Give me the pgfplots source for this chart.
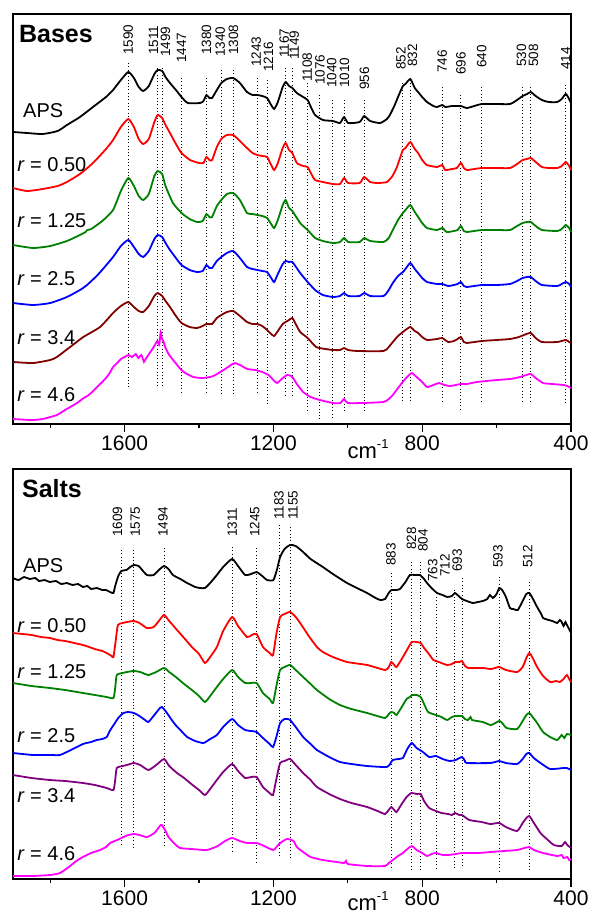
\documentclass[border=0pt]{standalone}
\usepackage{pgfplots}
\pgfplotsset{compat=1.18}
\usepackage{fontspec}
\setmainfont{Liberation Sans}
\definecolor{cgreen}{RGB}{0,128,0}
\definecolor{cbrown}{RGB}{128,0,0}
\definecolor{cpurple}{RGB}{128,0,128}
\definecolor{cmag}{RGB}{255,0,255}
\definecolor{cred}{RGB}{255,0,0}
\definecolor{cblue}{RGB}{0,0,255}
\newcommand{\lbl}{\fontsize{13.5}{14}\selectfont}
\newcommand{\ser}{\fontsize{20}{20}\selectfont}
\pgfplotsset{
  panel/.style={
    scale only axis, width=558pt, height=410pt,
    x dir=reverse, xmin=400, xmax=1900, ymin=0, ymax=410,
    xtick={1600,1200,800,400}, minor xtick={1800,1400,1000,600},
    ytick=\empty, tick align=outside, xtick pos=bottom,
    major tick length=8pt, minor tick length=4pt,
    every tick/.style={black, line width=1.2pt},
    axis line style={line width=1.5pt},
    /pgf/number format/assume math mode=true,
    /pgf/number format/1000 sep={},
    xticklabel style={font=\fontsize{21}{21}\selectfont},
    clip=false,
  },
  spec/.style={line width=1.8pt, smooth, tension=0.35, mark=none},
  pk/.style={black, line width=0.9pt, dash pattern=on 0.9pt off 2.4pt, forget plot},
}
\begin{document}
\begin{tikzpicture}
\useasboundingbox (0,0) rectangle (590pt,-913pt);
% ================= TOP: Bases =================
\begin{axis}[panel, at={(13pt,-424pt)}, anchor=south west]
% dotted lines
\addplot[pk] coordinates {(1590,361) (1590,36)};
\addplot[pk] coordinates {(1511,356) (1511,36)};
\addplot[pk] coordinates {(1499,356) (1499,36)};
\addplot[pk] coordinates {(1447,346) (1447,31)};
\addplot[pk] coordinates {(1380,346) (1380,31)};
\addplot[pk] coordinates {(1340,354) (1340,28)};
\addplot[pk] coordinates {(1308,354) (1308,28)};
\addplot[pk] coordinates {(1243,346) (1243,31)};
\addplot[pk] coordinates {(1216,344) (1216,20)};
\addplot[pk] coordinates {(1167,356) (1167,28)};
\addplot[pk] coordinates {(1149,356) (1149,26)};
\addplot[pk] coordinates {(1108,341) (1108,11)};
\addplot[pk] coordinates {(1076,329) (1076,4)};
\addplot[pk] coordinates {(1040,324) (1040,6)};
\addplot[pk] coordinates {(1010,324) (1010,12)};
\addplot[pk] coordinates {(956,324) (956,12)};
\addplot[pk] coordinates {(852,341) (852,22)};
\addplot[pk] coordinates {(832,341) (832,22)};
\addplot[pk] coordinates {(746,337) (746,22)};
\addplot[pk] coordinates {(696,329) (696,14)};
\addplot[pk] coordinates {(640,337) (640,22)};
\addplot[pk] coordinates {(530,337) (530,22)};
\addplot[pk] coordinates {(508,337) (508,22)};
\addplot[pk] coordinates {(414,339) (414,22)};
% APS
\addplot[spec, black] coordinates {(1900,292) (1862,291) (1820,290) (1780,293) (1755,299) (1720,307) (1685,317) (1650,327) (1631,334) (1610,344) (1590,352) (1575,346) (1562,337) (1550,333) (1535,338) (1520,350) (1511,354) (1499,353) (1490,347) (1478,341) (1462,334) (1447,327) (1430,321) (1397,321) (1388,323) (1380,329) (1372,326) (1365,326) (1352,334) (1340,341) (1325,345) (1308,346) (1290,341) (1271,332) (1256,329) (1243,329) (1230,328) (1217,326) (1206,319) (1198,315) (1188,322) (1175,337) (1167,342) (1158,338) (1149,336) (1137,331) (1120,327) (1108,324) (1098,316) (1088,309) (1067,304) (1040,303) (1021,301) (1010,307) (999,301) (968,302) (956,308) (940,303) (913,301) (895,305) (887,309) (875,318) (865,327) (852,338) (845,340) (832,345) (820,336) (811,332) (800,327) (787,322) (770,318) (760,317) (746,319) (738,317) (720,318) (707,318) (696,318) (680,316) (660,318) (640,320) (600,320) (564,320) (545,324) (530,328) (518,330) (508,332) (495,328) (478,324) (460,322) (437,322) (425,325) (414,330) (405,325) (400,321)};
% r=0.50
\addplot[spec, cred] coordinates {(1900,236) (1862,233) (1820,235) (1780,238) (1755,242) (1720,250) (1685,261) (1650,275) (1631,284) (1610,297) (1590,305) (1575,297) (1562,285) (1550,280) (1535,285) (1520,302) (1511,309) (1499,306) (1490,299) (1478,291) (1462,280) (1447,271) (1424,264) (1400,261) (1388,261) (1380,267) (1372,264) (1365,264) (1352,277) (1340,285) (1325,289) (1308,289) (1290,283) (1271,276) (1256,271) (1243,269) (1230,268) (1217,267) (1206,259) (1198,254) (1188,261) (1175,276) (1167,281) (1158,274) (1149,271) (1137,261) (1120,258) (1108,257) (1098,250) (1088,244) (1067,242) (1040,240) (1021,240) (1010,246) (999,241) (968,241) (956,247) (940,242) (920,241) (895,242) (880,248) (868,257) (852,274) (845,276) (832,282) (820,275) (811,271) (800,264) (787,259) (760,257) (746,259) (738,254) (720,255) (707,256) (696,261) (688,256) (680,254) (660,255) (640,256) (600,256) (564,256) (545,260) (530,264) (518,265) (508,266) (495,262) (478,257) (460,256) (437,256) (425,258) (414,262) (405,258) (400,254)};
% r=1.25
\addplot[spec, cgreen] coordinates {(1900,179) (1846,176) (1800,178) (1755,183) (1720,189) (1705,192) (1700,194) (1690,195) (1660,203) (1631,214) (1610,233) (1590,246) (1575,238) (1562,228) (1550,224) (1535,230) (1520,248) (1511,253) (1499,250) (1490,238) (1470,221) (1447,211) (1425,205) (1405,202) (1390,203) (1380,210) (1372,207) (1365,207) (1352,218) (1340,224) (1325,230) (1308,231) (1290,224) (1271,211) (1256,210) (1243,209) (1230,208) (1217,206) (1206,200) (1198,196) (1188,204) (1175,219) (1167,224) (1158,216) (1149,213) (1128,201) (1108,194) (1098,190) (1088,186) (1067,183) (1040,181) (1021,182) (1010,186) (999,182) (968,182) (956,186) (940,183) (904,182) (890,186) (879,194) (865,204) (852,211) (845,214) (832,219) (820,212) (811,207) (800,201) (787,196) (760,194) (746,196) (734,192) (715,193) (705,194) (696,198) (688,193) (680,192) (640,194) (600,194) (564,194) (545,198) (530,201) (518,202) (508,202) (495,198) (478,194) (437,193) (425,195) (414,199) (405,196) (400,192)};
% r=2.5
\addplot[spec, cblue] coordinates {(1900,121) (1846,119) (1800,121) (1755,127) (1720,134) (1701,139) (1670,150) (1631,167) (1610,178) (1590,184) (1575,177) (1562,170) (1550,167) (1535,173) (1520,185) (1511,189) (1499,187) (1490,181) (1478,174) (1462,166) (1447,159) (1425,154) (1405,152) (1390,153) (1380,159) (1372,156) (1365,156) (1352,163) (1340,167) (1325,171) (1308,173) (1290,166) (1271,157) (1256,155) (1243,154) (1230,153) (1217,152) (1206,146) (1198,142) (1188,150) (1175,160) (1167,163) (1158,162) (1149,162) (1128,151) (1108,142) (1098,138) (1088,134) (1067,129) (1040,127) (1021,128) (1010,131) (999,128) (968,128) (956,131) (940,128) (904,128) (890,134) (879,141) (865,148) (852,152) (845,155) (832,161) (820,155) (811,151) (800,146) (787,142) (760,140) (746,140) (730,138) (715,139) (705,140) (696,142) (688,138) (680,137) (640,139) (600,139) (564,140) (545,143) (530,146) (518,147) (508,147) (495,143) (478,139) (437,138) (425,140) (414,142) (405,140) (400,137)};
% r=3.4
\addplot[spec, cbrown] coordinates {(1900,62) (1846,61) (1800,64) (1782,67) (1750,76) (1711,87) (1666,97) (1631,111) (1610,118) (1590,122) (1575,117) (1562,113) (1550,112) (1535,118) (1520,128) (1511,131) (1499,128) (1490,123) (1478,117) (1462,108) (1447,101) (1425,97) (1405,96) (1390,98) (1380,100) (1365,100) (1352,106) (1340,109) (1325,112) (1308,113) (1290,108) (1271,102) (1256,100) (1243,100) (1230,98) (1217,94) (1206,90) (1198,88) (1188,93) (1175,100) (1167,102) (1158,104) (1149,106) (1140,100) (1128,92) (1108,86) (1085,77) (1060,75) (1040,74) (1021,74) (1010,76) (999,74) (975,73) (904,73) (890,77) (879,82) (865,88) (852,92) (845,94) (832,97) (820,93) (811,91) (800,87) (787,84) (760,85) (746,86) (730,82) (715,83) (705,85) (696,87) (688,82) (680,81) (640,83) (600,84) (564,85) (540,87) (520,90) (508,91) (495,86) (478,82) (437,82) (414,84) (405,82) (400,81)};
% r=4.6
\addplot[spec, cmag] coordinates {(1900,5) (1850,4) (1820,5) (1782,9) (1760,14) (1728,21) (1710,26) (1700,28) (1690,31) (1674,37) (1660,42) (1650,46) (1640,51) (1631,57) (1620,61) (1610,65) (1600,67) (1590,69) (1580,67) (1570,70) (1563,66) (1555,69) (1548,62) (1545,64) (1538,68) (1527,74) (1520,78) (1512,83) (1507,79) (1503,92) (1500,86) (1495,82) (1491,77) (1480,69) (1463,61) (1450,55) (1437,51) (1415,47) (1392,46) (1370,47) (1356,49) (1330,55) (1310,60) (1303,61) (1290,59) (1270,55) (1249,54) (1230,52) (1213,49) (1200,44) (1190,41) (1178,45) (1163,49) (1152,48) (1147,46) (1137,40) (1120,32) (1100,27) (1075,24) (1040,21) (1020,21) (1010,25) (1000,21) (960,21) (904,22) (890,25) (879,29) (865,36) (848,44) (835,49) (828,51) (815,47) (800,42) (787,37) (770,39) (755,41) (740,39) (725,38) (710,39) (696,40) (680,40) (653,42) (600,44) (564,45) (537,47) (520,49) (508,50) (495,46) (475,41) (450,40) (420,39) (410,38) (400,36)};
% texts
\node[anchor=base west, inner sep=0pt, font=\fontsize{25}{25}\selectfont\bfseries] at (axis cs:1884,382) {Bases};
\node[anchor=base west, inner sep=0pt, font=\ser] at (axis cs:1873,307) {APS};
\node[anchor=base west, inner sep=0pt, font=\ser] at (axis cs:1889,253) {\textit{r} = 0.50};
\node[anchor=base west, inner sep=0pt, font=\ser] at (axis cs:1889,197) {\textit{r} = 1.25};
\node[anchor=base west, inner sep=0pt, font=\ser] at (axis cs:1889,139) {\textit{r} = 2.5};
\node[anchor=base west, inner sep=0pt, font=\ser] at (axis cs:1889,80) {\textit{r} = 3.4};
\node[anchor=base west, inner sep=0pt, font=\ser] at (axis cs:1889,23) {\textit{r} = 4.6};
\node[rotate=90, anchor=west, inner sep=0pt, font=\lbl] at (axis cs:1590,369) {1590};
\node[rotate=90, anchor=west, inner sep=0pt, font=\lbl] at (axis cs:1522,369) {1511};
\node[rotate=90, anchor=west, inner sep=0pt, font=\lbl] at (axis cs:1490,367) {1499};
\node[rotate=90, anchor=west, inner sep=0pt, font=\lbl] at (axis cs:1447,361) {1447};
\node[rotate=90, anchor=west, inner sep=0pt, font=\lbl] at (axis cs:1380,369) {1380};
\node[rotate=90, anchor=west, inner sep=0pt, font=\lbl] at (axis cs:1343,367) {1340};
\node[rotate=90, anchor=west, inner sep=0pt, font=\lbl] at (axis cs:1307,369) {1308};
\node[rotate=90, anchor=west, inner sep=0pt, font=\lbl] at (axis cs:1246,357) {1243};
\node[rotate=90, anchor=west, inner sep=0pt, font=\lbl] at (axis cs:1213,352) {1216};
\node[rotate=90, anchor=west, inner sep=0pt, font=\lbl] at (axis cs:1171,366) {1167};
\node[rotate=90, anchor=west, inner sep=0pt, font=\lbl] at (axis cs:1144,364) {1149};
\node[rotate=90, anchor=west, inner sep=0pt, font=\lbl] at (axis cs:1109,342) {1108};
\node[rotate=90, anchor=west, inner sep=0pt, font=\lbl] at (axis cs:1075,339) {1076};
\node[rotate=90, anchor=west, inner sep=0pt, font=\lbl] at (axis cs:1043,336) {1040};
\node[rotate=90, anchor=west, inner sep=0pt, font=\lbl] at (axis cs:1009,336) {1010};
\node[rotate=90, anchor=west, inner sep=0pt, font=\lbl] at (axis cs:955,334) {956};
\node[rotate=90, anchor=west, inner sep=0pt, font=\lbl] at (axis cs:857,354) {852};
\node[rotate=90, anchor=west, inner sep=0pt, font=\lbl] at (axis cs:826,357) {832};
\node[rotate=90, anchor=west, inner sep=0pt, font=\lbl] at (axis cs:746,351) {746};
\node[rotate=90, anchor=west, inner sep=0pt, font=\lbl] at (axis cs:696,349) {696};
\node[rotate=90, anchor=west, inner sep=0pt, font=\lbl] at (axis cs:640,356) {640};
\node[rotate=90, anchor=west, inner sep=0pt, font=\lbl] at (axis cs:533,357) {530};
\node[rotate=90, anchor=west, inner sep=0pt, font=\lbl] at (axis cs:501,357) {508};
\node[rotate=90, anchor=west, inner sep=0pt, font=\lbl] at (axis cs:414,354) {414};
\node[anchor=base west, inner sep=0pt, font=\fontsize{22}{22}\selectfont] at (axis cs:1001,-34) {cm\raisebox{10pt}{\fontsize{13}{13}\selectfont -1}};
\end{axis}
% ================= BOTTOM: Salts =================
\begin{axis}[panel, at={(13pt,-879pt)}, anchor=south west]
\addplot[pk] coordinates {(1609,329) (1609,32)};
\addplot[pk] coordinates {(1575,329) (1575,31)};
\addplot[pk] coordinates {(1494,331) (1494,31)};
\addplot[pk] coordinates {(1311,332) (1311,26)};
\addplot[pk] coordinates {(1245,331) (1245,17)};
\addplot[pk] coordinates {(1183,354) (1183,21)};
\addplot[pk] coordinates {(1155,352) (1155,21)};
\addplot[pk] coordinates {(883,306) (883,9)};
\addplot[pk] coordinates {(828,317) (828,9)};
\addplot[pk] coordinates {(804,317) (804,9)};
\addplot[pk] coordinates {(763,282) (763,11)};
\addplot[pk] coordinates {(712,289) (712,11)};
\addplot[pk] coordinates {(693,301) (693,11)};
\addplot[pk] coordinates {(593,302) (593,7)};
\addplot[pk] coordinates {(512,297) (512,7)};
% APS
\addplot[spec, black] coordinates {(1900,301) (1885,299) (1870,302) (1855,300) (1840,301) (1830,298) (1815,299) (1801,297) (1785,298) (1770,295) (1755,296) (1740,294) (1725,295) (1712,292) (1700,293) (1690,290) (1675,291) (1660,289) (1650,289) (1639,287) (1630,286) (1626,292) (1618,302) (1609,308) (1595,309) (1585,312) (1575,314) (1562,313) (1555,310) (1540,304) (1522,304) (1508,309) (1494,313) (1482,310) (1470,304) (1450,300) (1432,296) (1410,292) (1397,291) (1384,291) (1370,296) (1352,304) (1335,312) (1311,320) (1295,313) (1276,304) (1260,305) (1245,307) (1230,303) (1217,299) (1200,299) (1190,310) (1182,322) (1170,330) (1155,334) (1140,333) (1120,327) (1100,320) (1067,312) (1040,305) (1002,296) (970,290) (948,286) (930,282) (913,279) (900,280) (890,286) (883,289) (870,289) (860,290) (845,297) (833,304) (820,304) (806,304) (795,300) (787,296) (775,291) (760,286) (745,284) (733,282) (720,283) (712,286) (705,284) (693,280) (680,278) (664,276) (650,277) (637,278) (625,280) (618,284) (610,281) (600,285) (593,291) (585,289) (575,282) (564,271) (555,270) (543,269) (530,278) (520,285) (512,286) (505,282) (491,272) (480,265) (475,261) (460,259) (450,258) (437,256) (430,259) (425,257) (420,253) (415,257) (411,254) (405,250) (400,246)};
% r=0.50
\addplot[spec, cred] coordinates {(1900,246) (1875,245) (1850,244) (1825,242) (1801,241) (1780,239) (1760,238) (1735,236) (1712,234) (1695,232) (1680,230) (1660,228) (1648,226) (1635,223) (1630,222) (1624,238) (1618,254) (1605,256) (1594,257) (1575,258) (1560,256) (1540,251) (1522,252) (1508,258) (1494,264) (1480,258) (1459,249) (1440,241) (1419,232) (1400,225) (1384,216) (1370,222) (1352,232) (1335,248) (1311,262) (1295,253) (1271,242) (1258,244) (1245,245) (1228,232) (1210,226) (1201,224) (1192,245) (1182,262) (1170,265) (1155,267) (1140,262) (1128,256) (1105,243) (1083,232) (1067,227) (1040,222) (1002,217) (948,214) (900,209) (890,212) (883,217) (875,214) (869,212) (855,220) (841,229) (828,237) (816,237) (804,236) (795,231) (784,226) (770,219) (763,218) (748,216) (733,214) (720,215) (712,217) (700,217) (693,218) (685,213) (677,211) (637,211) (615,210) (593,212) (575,209) (545,207) (530,212) (520,221) (512,226) (503,221) (491,212) (475,203) (456,197) (440,198) (430,197) (420,200) (411,204) (405,200) (400,197)};
% r=1.25
\addplot[spec, cgreen] coordinates {(1900,196) (1850,193) (1801,191) (1760,189) (1712,186) (1680,184) (1648,182) (1630,181) (1625,192) (1621,204) (1605,206) (1594,207) (1575,208) (1558,207) (1545,205) (1536,204) (1515,207) (1494,211) (1480,207) (1459,201) (1440,195) (1419,189) (1400,183) (1384,177) (1370,183) (1352,192) (1335,200) (1311,209) (1295,202) (1276,196) (1260,196) (1245,196) (1228,186) (1210,180) (1201,176) (1192,193) (1182,209) (1170,212) (1155,214) (1140,209) (1120,202) (1100,195) (1083,189) (1050,180) (1021,174) (990,170) (948,166) (900,161) (890,165) (883,167) (875,166) (869,164) (855,172) (842,180) (833,182) (828,184) (815,184) (804,182) (795,175) (784,167) (763,164) (748,162) (733,159) (720,162) (712,163) (700,163) (693,163) (685,160) (677,159) (670,162) (666,159) (637,157) (615,154) (593,158) (585,156) (573,151) (545,150) (530,158) (520,164) (512,166) (503,162) (491,156) (475,147) (456,142) (437,139) (425,144) (418,141) (411,145) (400,144)};
% r=2.5
\addplot[spec, cblue] coordinates {(1900,126) (1846,124) (1800,124) (1774,124) (1750,128) (1712,135) (1690,137) (1675,139) (1660,140) (1648,142) (1640,148) (1626,156) (1615,162) (1603,166) (1590,167) (1575,166) (1560,163) (1545,159) (1536,157) (1520,164) (1505,171) (1500,172) (1490,168) (1475,160) (1463,154) (1445,147) (1432,142) (1410,138) (1388,136) (1370,140) (1352,144) (1335,152) (1311,160) (1295,154) (1276,149) (1260,148) (1245,147) (1228,141) (1210,135) (1201,132) (1192,142) (1182,156) (1170,160) (1163,160) (1155,159) (1140,152) (1120,142) (1100,135) (1083,129) (1050,122) (1021,117) (990,115) (948,113) (895,112) (885,116) (879,119) (865,120) (852,121) (840,130) (828,136) (815,131) (798,127) (781,122) (763,123) (745,120) (726,118) (710,119) (693,122) (685,118) (680,116) (617,116) (593,118) (575,116) (545,115) (530,120) (520,125) (512,126) (500,121) (482,116) (456,110) (420,111) (411,111) (400,109)};
% r=3.4
\addplot[spec, cpurple] coordinates {(1900,104) (1850,101) (1801,99) (1760,98) (1712,96) (1680,94) (1648,91) (1630,89) (1625,100) (1621,111) (1605,113) (1594,114) (1575,116) (1558,114) (1536,109) (1515,114) (1494,120) (1480,113) (1459,106) (1440,101) (1424,96) (1400,89) (1384,84) (1370,90) (1352,99) (1335,107) (1311,115) (1295,108) (1276,101) (1260,102) (1245,102) (1228,92) (1210,86) (1201,84) (1192,100) (1182,116) (1170,118) (1155,120) (1140,114) (1120,106) (1100,99) (1083,92) (1050,85) (1021,80) (990,76) (948,72) (920,68) (900,65) (890,69) (883,72) (875,69) (869,67) (855,75) (842,82) (829,86) (815,85) (804,85) (795,78) (781,71) (763,68) (748,66) (730,65) (720,64) (712,66) (700,64) (693,64) (673,59) (640,57) (617,55) (593,56) (575,52) (545,48) (530,56) (520,61) (512,63) (503,58) (482,46) (465,40) (446,34) (425,33) (416,37) (410,34) (400,31)};
% r=4.6
\addplot[spec, cmag] coordinates {(1900,3) (1850,3) (1800,4) (1774,6) (1750,12) (1730,18) (1712,22) (1690,26) (1666,29) (1650,32) (1639,36) (1620,39) (1603,42) (1590,44) (1575,45) (1560,44) (1540,42) (1520,46) (1505,53) (1500,54) (1490,48) (1482,42) (1465,35) (1451,31) (1420,30) (1379,29) (1350,33) (1330,38) (1311,41) (1290,38) (1271,36) (1245,36) (1225,33) (1200,29) (1185,35) (1164,40) (1146,38) (1137,32) (1120,27) (1100,22) (1067,19) (1030,17) (1010,16) (1005,18) (1000,15) (948,13) (900,13) (890,16) (879,19) (865,23) (852,26) (840,30) (828,33) (815,29) (800,26) (787,23) (775,25) (763,26) (745,24) (730,24) (710,25) (693,26) (650,26) (617,27) (580,28) (545,29) (525,31) (512,32) (500,29) (475,26) (437,23) (425,24) (420,21) (410,22) (405,19) (400,20)};
% texts
\node[anchor=base west, inner sep=0pt, font=\fontsize{25}{25}\selectfont\bfseries] at (axis cs:1876,382) {Salts};
\node[anchor=base west, inner sep=0pt, font=\ser] at (axis cs:1873,307) {APS};
\node[anchor=base west, inner sep=0pt, font=\ser] at (axis cs:1889,247) {\textit{r} = 0.50};
\node[anchor=base west, inner sep=0pt, font=\ser] at (axis cs:1889,201) {\textit{r} = 1.25};
\node[anchor=base west, inner sep=0pt, font=\ser] at (axis cs:1889,137) {\textit{r} = 2.5};
\node[anchor=base west, inner sep=0pt, font=\ser] at (axis cs:1889,77) {\textit{r} = 3.4};
\node[anchor=base west, inner sep=0pt, font=\ser] at (axis cs:1889,19) {\textit{r} = 4.6};
\node[rotate=90, anchor=west, inner sep=0pt, font=\lbl] at (axis cs:1619,342) {1609};
\node[rotate=90, anchor=west, inner sep=0pt, font=\lbl] at (axis cs:1571,342) {1575};
\node[rotate=90, anchor=west, inner sep=0pt, font=\lbl] at (axis cs:1497,342) {1494};
\node[rotate=90, anchor=west, inner sep=0pt, font=\lbl] at (axis cs:1311,342) {1311};
\node[rotate=90, anchor=west, inner sep=0pt, font=\lbl] at (axis cs:1250,342) {1245};
\node[rotate=90, anchor=west, inner sep=0pt, font=\lbl] at (axis cs:1185,359) {1183};
\node[rotate=90, anchor=west, inner sep=0pt, font=\lbl] at (axis cs:1147,359) {1155};
\node[rotate=90, anchor=west, inner sep=0pt, font=\lbl] at (axis cs:884,313) {883};
\node[rotate=90, anchor=west, inner sep=0pt, font=\lbl] at (axis cs:829,329) {828};
\node[rotate=90, anchor=west, inner sep=0pt, font=\lbl] at (axis cs:798,327) {804};
\node[rotate=90, anchor=west, inner sep=0pt, font=\lbl] at (axis cs:772,297) {763};
\node[rotate=90, anchor=west, inner sep=0pt, font=\lbl] at (axis cs:739,302) {712};
\node[rotate=90, anchor=west, inner sep=0pt, font=\lbl] at (axis cs:706,307) {693};
\node[rotate=90, anchor=west, inner sep=0pt, font=\lbl] at (axis cs:596,311) {593};
\node[rotate=90, anchor=west, inner sep=0pt, font=\lbl] at (axis cs:516,311) {512};
\node[anchor=base west, inner sep=0pt, font=\fontsize{22}{22}\selectfont] at (axis cs:1001,-31) {cm\raisebox{10pt}{\fontsize{13}{13}\selectfont -1}};
\end{axis}
\end{tikzpicture}
\end{document}
